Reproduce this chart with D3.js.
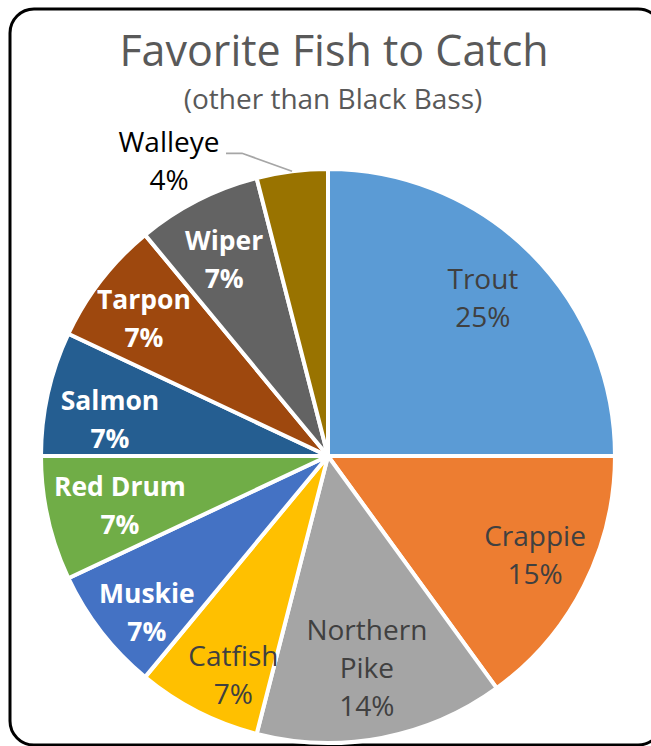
<!DOCTYPE html>
<html><head><meta charset="utf-8">
<script src="https://cdn.jsdelivr.net/npm/d3@7"></script>
<style>html,body{margin:0;padding:0;background:#fff;}svg{display:block;}</style>
</head><body>
<svg id="chart" width="651" height="746"></svg>
<script>
const categories = ["Trout","Crappie","Northern Pike","Catfish","Muskie","Red Drum","Salmon","Tarpon","Wiper","Walleye"];
const values = [25,15,14,7,7,7,7,7,7,4];
const colors = ["#5B9BD5","#ED7D31","#A5A5A5","#FFC000","#4472C4","#70AD47","#255E91","#9E480E","#636363","#997300"];
const labelLines = [["Trout"],["Crappie"],["Northern","Pike"],["Catfish"],["Muskie"],["Red Drum"],["Salmon"],["Tarpon"],["Wiper"],["Walleye"]];
const darkLabel = [true,true,true,true,false,false,false,false,false,true];
const title = "Favorite Fish to Catch";
const subtitle = "(other than Black Bass)";

// layout: label distance from centre (fraction of radius) and angular shift from slice middle (degrees)
const labelRadius = [0.77,0.80,0.75,0.83,0.835,0.745,0.77,0.80,0.773,1];
const labelShift  = [-0.5,-1.4,0.4,-3.6,-3.1,-0.7,-3.2,-1.1,-0.9,0];

const svg = d3.select("#chart");
const FONT = "'Open Sans', sans-serif";

svg.append("rect").attr("x",10).attr("y",9).attr("width",652).attr("height",736)
  .attr("rx",24).attr("ry",24).attr("fill","#fff").attr("stroke","#000").attr("stroke-width",3);

svg.append("text").attr("x",334).attr("y",66).attr("text-anchor","middle")
  .attr("font-family",FONT).attr("font-size",43).attr("fill","#595959").text(title);
svg.append("text").attr("x",333).attr("y",109).attr("text-anchor","middle")
  .attr("font-family",FONT).attr("font-size",28).attr("fill","#595959").text(subtitle);

const cx = 328, cy = 456, r = 287;
const total = d3.sum(values);
const pie = d3.pie().sort(null).value(d => d)(values);
const arc = d3.arc().innerRadius(0).outerRadius(r);
const g = svg.append("g").attr("transform",`translate(${cx},${cy})`);

g.selectAll("path").data(pie).join("path")
  .attr("d",arc).attr("fill",(d,i)=>colors[i])
  .attr("stroke","#fff").attr("stroke-width",4).attr("stroke-linejoin","round");

const lineH = 38, fsN = 28, fsB = 26.5;

pie.forEach((d,i) => {
  const lines = labelLines[i].concat([Math.round(values[i]/total*100)+"%"]);
  const mid = (d.startAngle + d.endAngle)/2;
  if (categories[i] === "Walleye") {
    const p0 = [Math.sin(mid)*r, -Math.cos(mid)*r];
    const elbow = [p0[0]-50, p0[1]-18];
    const end = [elbow[0]-16, elbow[1]];
    g.append("polyline").attr("points",[p0,elbow,end].map(p=>p.join(",")).join(" "))
      .attr("fill","none").attr("stroke","#A6A6A6").attr("stroke-width",1.75);
    const x = end[0]-57, y = end[1]-1;
    const t = g.append("text").attr("text-anchor","middle").attr("font-family",FONT)
      .attr("font-size",fsN).attr("fill","#000");
    lines.forEach((s,k)=>t.append("tspan").attr("x",x).attr("y",y + k*lineH).text(s));
    return;
  }
  const a = mid + labelShift[i]*Math.PI/180;
  const lr = r*labelRadius[i];
  const c = [Math.sin(a)*lr, -Math.cos(a)*lr];
  const fs = darkLabel[i] ? fsN : fsB;
  const n = lines.length;
  const y0 = c[1] - (n-1)*lineH/2 + fs*0.36;
  const t = g.append("text").attr("text-anchor","middle").attr("font-family",FONT)
    .attr("font-size",fs)
    .attr("font-weight",darkLabel[i] ? "normal" : "bold")
    .attr("fill",darkLabel[i] ? "#404040" : "#fff");
  lines.forEach((s,k)=>t.append("tspan").attr("x",c[0]).attr("y",y0 + k*lineH).text(s));
});
</script>
</body></html>
